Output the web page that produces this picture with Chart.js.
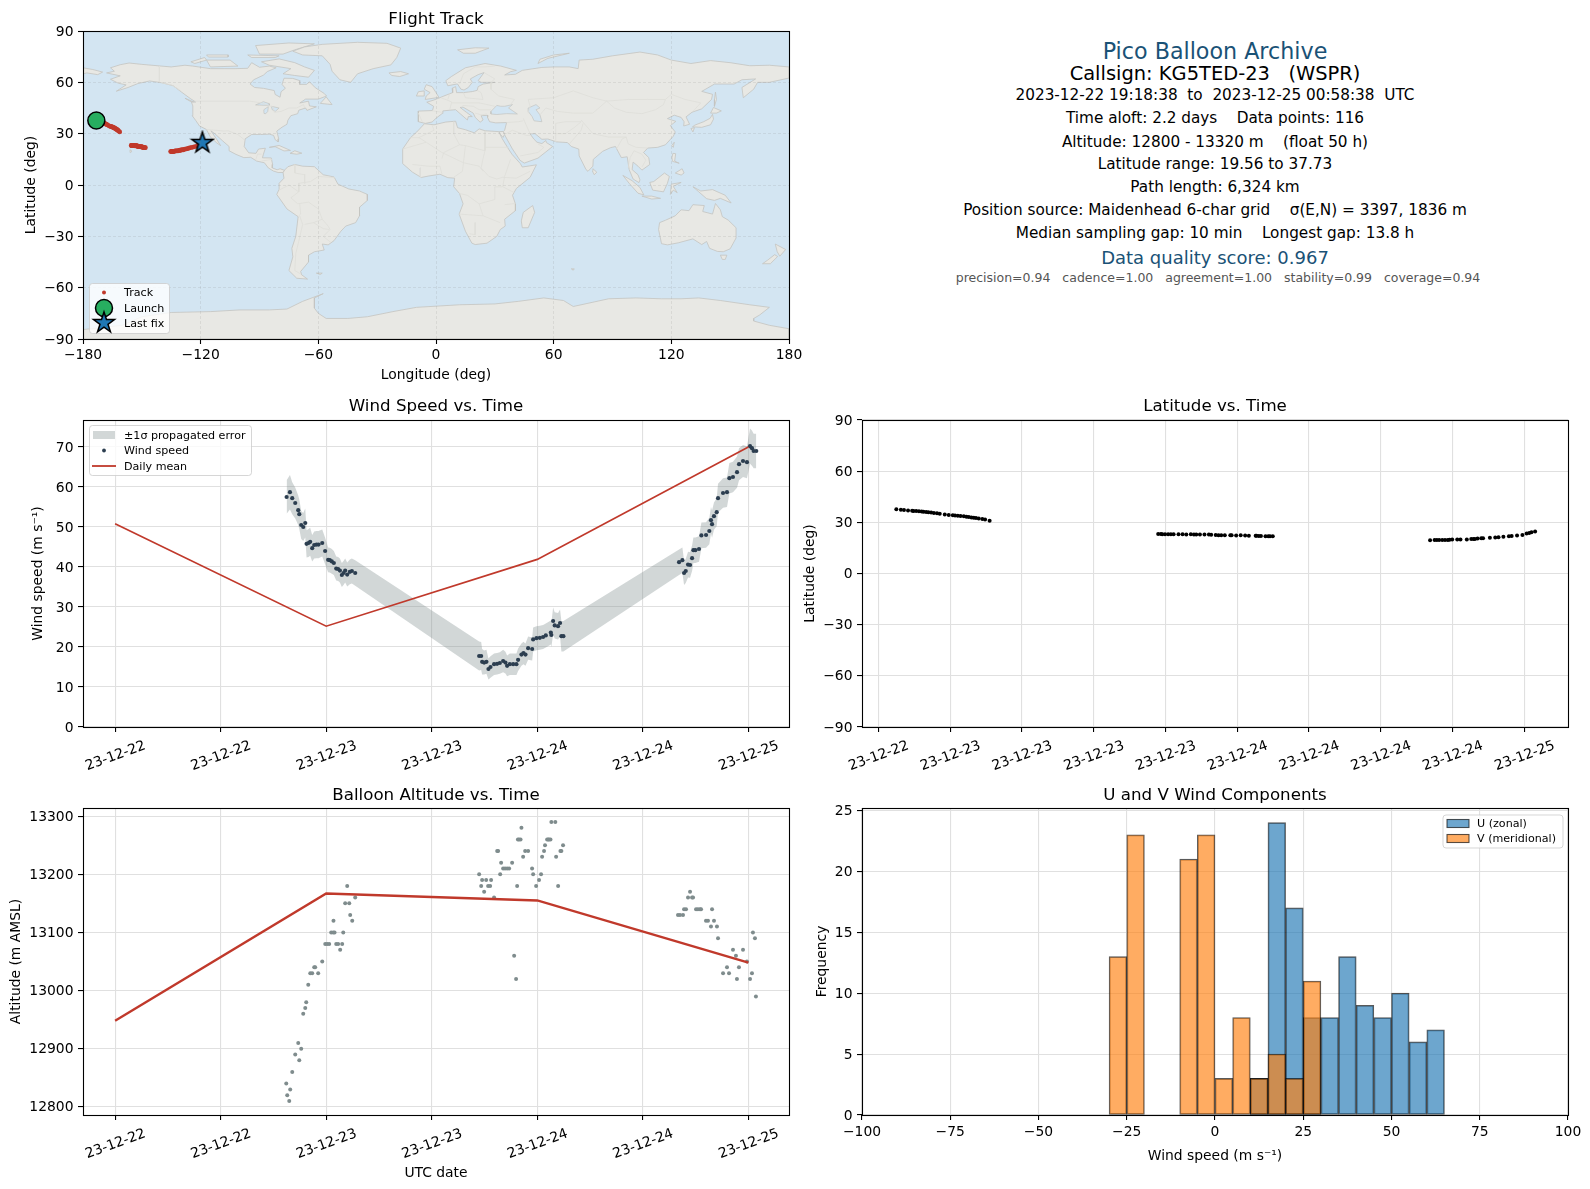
<!DOCTYPE html>
<html>
<head>
<meta charset="utf-8">
<title>Pico Balloon Archive</title>
<script src="https://cdn.jsdelivr.net/npm/chart.js@4/dist/chart.umd.min.js"></script>
<style>
  html, body { margin: 0; background: #fff; }
  #page { position: relative; width: 1590px; height: 1189px; overflow: hidden; font-family: "DejaVu Sans", sans-serif; }
  canvas { position: absolute; }
  .info { position: absolute; transform: translate(-50%, -50%); white-space: pre; line-height: 1; color: #000; }
</style>
</head>
<body>
<div id="page"></div>
<script>
// Measurements, hours since 2023-12-22 00:00 UTC
const flightHours = [
  19.50,19.88,20.14,20.48,20.82,20.94,21.16,21.39,21.62,21.77,21.99,22.18,22.41,22.64,22.90,23.13,23.55,23.88,24.22,24.41,24.64,24.87,25.14,25.36,25.56,25.78,25.97,26.16,26.39,26.69,26.92,27.30,
  41.39,41.62,41.73,41.96,42.22,42.45,42.68,43.09,43.43,43.74,44.12,44.38,44.57,44.88,45.26,45.63,45.82,46.20,46.43,46.66,46.96,47.42,47.53,47.91,48.29,48.66,48.97,49.54,49.60,49.80,49.98,50.36,50.59,50.74,50.97,
  64.12,64.50,64.69,64.88,65.14,65.37,65.60,65.75,65.97,66.39,66.66,67.19,67.56,67.75,67.87,68.09,68.40,68.55,69.12,69.57,69.84,70.25,70.71,70.94,71.39,71.84,72.19,72.41,72.60,72.90];
const windSpeed = [
  57.5,58.7,57.2,56.0,54.2,53.2,50.5,50.0,51.0,45.8,46.0,46.3,44.7,45.5,45.6,45.6,46.0,44.0,41.8,41.7,41.4,41.0,39.6,39.5,39.1,38.0,38.5,39.1,38.1,38.8,39.0,38.5,
  17.75,17.75,16.3,16.1,16.3,14.5,15.0,15.7,15.8,16.0,16.5,16.1,15.3,15.7,15.7,15.7,16.8,18.1,18.5,18.1,19.7,19.5,21.9,22.2,22.3,22.5,22.9,23.6,23.0,26.5,25.4,25.2,26.0,22.7,22.7,
  41.2,41.7,38.5,39.0,40.6,40.5,42.2,44.2,44.2,44.5,47.9,48.0,49.0,51.7,50.7,52.7,53.7,57.2,58.5,58.7,62.2,62.5,63.7,65.7,66.5,66.2,70.2,69.7,69.0,69.0];
const windSigma = [
  4.2,4.3,4.0,3.9,3.7,3.7,3.5,3.5,3.6,3.4,3.5,3.5,3.3,3.4,3.4,3.4,3.4,3.3,3.1,3.1,3.1,3.0,3.0,3.0,3.0,3.0,3.0,3.0,3.0,3.1,3.1,3.2,
  3.6,3.5,3.2,3.0,3.0,2.6,2.7,2.7,2.7,2.7,2.8,2.7,2.6,2.7,2.7,2.7,2.8,2.8,2.8,2.8,2.9,2.9,3.0,3.0,3.0,3.0,3.0,3.0,3.0,3.4,3.3,3.3,3.4,3.8,3.8,
  3.2,3.2,3.0,3.0,3.2,3.2,3.2,3.2,3.2,3.2,3.2,3.2,3.3,3.3,3.4,3.4,3.5,3.6,3.7,3.7,3.8,3.8,3.9,4.0,4.0,4.0,4.4,4.4,4.3,4.3];
const latitude = [
  37.73,37.4,37.2,37.0,36.8,36.7,36.6,36.5,36.3,36.2,36.1,35.9,35.7,35.5,35.3,35.0,34.6,34.3,34.2,34.0,33.9,33.7,33.5,33.3,33.1,32.9,32.7,32.5,32.3,32.0,31.6,31.0,
  23.1,23.1,23.0,23.0,23.0,23.0,23.0,23.0,23.0,22.9,23.0,22.9,22.9,22.9,22.8,22.8,22.7,22.6,22.5,22.5,22.4,22.4,22.4,22.3,22.4,22.3,22.2,22.1,22.1,22.0,22.0,21.9,21.9,21.8,21.8,
  19.56,19.6,19.6,19.6,19.6,19.7,19.7,19.8,19.9,19.9,20.0,20.0,20.2,20.3,20.3,20.5,20.6,20.6,21.0,21.1,21.3,21.5,21.8,22.0,22.3,22.6,23.4,23.8,24.2,24.6];
const longitude = [
  -173.2,-172.6,-172.2,-171.7,-171.2,-171.0,-170.6,-170.2,-169.9,-169.6,-169.2,-168.9,-168.6,-168.2,-167.8,-167.4,-166.7,-166.2,-165.7,-165.4,-165.0,-164.7,-164.3,-164.0,-163.7,-163.4,-163.1,-162.9,-162.6,-162.2,-161.9,-161.3,
  -155.4,-155.2,-155.0,-154.9,-154.7,-154.5,-154.3,-154.0,-153.7,-153.5,-153.2,-153.0,-152.9,-152.7,-152.5,-152.3,-152.1,-151.9,-151.7,-151.5,-151.3,-151.0,-150.9,-150.6,-150.3,-150.1,-149.9,-149.6,-149.5,-149.4,-149.3,-149.0,-148.8,-148.5,-148.2,
  -135.3,-134.9,-134.6,-134.4,-134.1,-133.8,-133.5,-133.2,-132.9,-132.4,-132.0,-131.5,-131.0,-130.6,-130.2,-129.8,-129.3,-128.7,-128.0,-127.3,-126.6,-126.0,-125.2,-124.3,-123.4,-122.3,-121.2,-120.2,-119.7,-119.1];

const altHours = [
  19.46,19.57,19.80,19.91,20.14,20.48,20.82,20.94,21.16,21.39,21.62,21.73,21.96,22.19,22.41,22.64,22.75,23.09,23.55,23.89,24.11,24.34,24.57,24.80,24.83,24.95,25.14,25.36,25.59,25.82,25.94,26.16,26.39,26.62,26.73,26.96,27.30,
  41.39,41.62,41.73,41.96,42.19,42.41,42.64,42.75,43.09,43.44,43.55,43.78,43.89,44.12,44.34,44.57,44.80,45.14,45.37,45.59,45.71,45.80,45.93,46.10,46.20,46.39,46.62,46.96,47.41,47.53,47.87,48.20,48.43,48.55,48.77,48.88,49.12,49.25,49.35,49.50,49.60,50.05,50.14,50.37,50.63,50.74,50.93,
  64.00,64.23,64.57,64.69,64.91,65.14,65.37,65.60,65.71,66.05,66.27,66.50,66.62,67.18,67.41,67.75,67.87,68.09,68.43,68.55,69.12,69.57,69.80,70.25,70.59,70.70,70.93,71.39,71.84,72.19,72.41,72.52,72.75,72.86];
const altitude = [
  12840,12820,12810,12830,12860,12890,12910,12880,12900,12960,12970,12980,13010,13030,13030,13040,13040,13030,13050,13080,13080,13080,13100,13100,13120,13100,13080,13080,13070,13080,13100,13150,13180,13150,13130,13120,13160,
  13200,13180,13190,13170,13190,13180,13180,13190,13160,13240,13240,13200,13220,13210,13210,13210,13210,13220,13060,13020,13180,13260,13260,13260,13280,13230,13240,13240,13210,13200,13180,13190,13200,13230,13240,13250,13260,13260,13260,13260,13290,13290,13230,13180,13240,13240,13250,
  13130,13130,13130,13140,13140,13160,13170,13160,13160,13140,13140,13140,13140,13120,13120,13110,13140,13120,13110,13090,13030,13040,13030,13070,13060,13020,13040,13070,13050,13020,13030,13100,13090,12990];

// Daily means
const dayHours = [0, 24, 48, 72];
const dailyWind = [50.8, 25.2, 41.9, 70.0];
const dailyAlt = [12948, 13167, 13155, 13048];

// Histogram of wind components, bins 5 m/s wide
const binLeftEdges = [-30,-25,-20,-15,-10,-5,0,5,10,15,20,25,30,35,40,45,50,55,60];
const uCounts = [0,0,0,0,0,0,0,0,3,24,17,8,8,13,9,8,10,6,7];
const vCounts = [13,23,0,0,21,23,3,8,3,5,3,11,0,0,0,0,0,0,0];

// Tick values and labels
const lonTicks = [-180,-120,-60,0,60,120,180];
const lonLabels = ['\u2212180','\u2212120','\u221260','0','60','120','180'];
const latTicks = [-90,-60,-30,0,30,60,90];
const latLabels = ['\u221290','\u221260','\u221230','0','30','60','90'];
const wideHourTicks = [0,12,24,36,48,60,72];
const wideHourLabels = ['23-12-22','23-12-22','23-12-23','23-12-23','23-12-24','23-12-24','23-12-25'];
const narrowHourTicks = [18,24,30,36,42,48,54,60,66,72];
const narrowHourLabels = ['23-12-22','23-12-23','23-12-23','23-12-23','23-12-23','23-12-24','23-12-24','23-12-24','23-12-24','23-12-25'];
const windTicks = [0,10,20,30,40,50,60,70];
const altTicks = [12800,12900,13000,13100,13200,13300];
const speedTicks = [-100,-75,-50,-25,0,25,50,75,100];
const speedLabels = ['\u2212100','\u221275','\u221250','\u221225','0','25','50','75','100'];
const freqTicks = [0,5,10,15,20,25];

// Map outlines, lon/lat pairs
const northAmerica = [-168,65.5,-164,66.5,-166,68.5,-161,70.3,-156.5,71.3,-150,70.5,-141,69.6,-135,69,-128,70,-124,69.5,-115,68,-108,68,-102,68,-96,68.2,-94,71.5,-90,68.8,-85,69.5,-81.5,68.5,-86,66.3,-88,64.2,-93,61.5,-94.8,59,-92.5,57,-88,56.5,-82.5,55.2,-82,52.9,-79.5,51.3,-79,54.5,-76.8,56.5,-78.5,58.8,-77.5,62.4,-73,62.3,-69.5,61,-69.5,58.8,-66,58.8,-64.5,60.3,-61.5,56.8,-57,53.5,-55.8,52,-60,50.2,-66.5,50.2,-69.5,47.9,-65,49,-64.5,46.2,-61,45.7,-65.8,43.6,-66.5,45,-70,43.7,-70.5,41.7,-74,40.5,-75.5,37.9,-76,35.5,-78.5,33.8,-81.2,31.5,-80.2,27,-80.5,25.2,-82,26.5,-82.8,29,-85,29.7,-89.5,29.5,-94,29.5,-97.3,27,-97.8,22.5,-95.5,18.8,-91.8,18.5,-90.5,21,-87,21.5,-88,18,-88.5,15.9,-84,15.8,-83.3,12,-83.5,10,-81,8.9,-79.5,9.5,-77.3,8.6,-78,7.3,-80.5,7.3,-83,8.2,-85.5,10,-87.5,13,-91.5,14,-94.5,16.2,-98,16,-102,17.9,-105.5,20,-105.5,22.5,-109,26,-112.8,30,-114.8,31.7,-112,27,-109.8,23,-112,24.8,-115,28,-117.1,32.5,-120.6,34.5,-122.5,37.7,-124.3,40.5,-124,46.2,-124.7,48.4,-122.5,48.5,-125,50.3,-130,54.5,-134,58,-140,59.8,-146,60.8,-152,59.3,-157,57,-163,54.8,-158,58.5,-162,59.5,-166,61.8,-161,63.8];
const greenland = [-73,78.2,-67,80.7,-58,82.2,-40,83.4,-25,82.8,-18,80,-20,74.5,-23,70.2,-32,68,-40,65,-43.5,60,-49,61.5,-53,66.5,-54,70.5,-58,75.5,-68,76];
const baffin = [-80,73.7,-72,71.5,-67,69,-62,67,-65,63,-72,64,-78,65,-74,68,-85,70,-89,72];
const victoriaIsland = [-117,73,-105,73,-101,69.5,-115,69];
const ellesmere = [-90,76.5,-78,76.5,-72,79,-62,82.5,-75,83,-92,81.5];
const banksIsland = [-125,72,-118,74.5,-117,73,-123,71];
const devonIsland = [-96,76,-80,75.5,-82,74.5,-94,74.5];
const melvilleIsland = [-117,76,-106,76,-106,74.8,-116,74.8];
const newfoundland = [-59,47.7,-56,51.5,-53,47];
const vancouverIsland = [-128,50.7,-123.3,48.4,-125,48.7];
const cuba = [-85,22,-80,23.1,-74.2,20.2,-77.5,19.9,-82,22.4];
const hispaniola = [-74.4,18.5,-72,20,-68.4,18.6,-71,18];
const hawaii = [-156,20.6,-155,19.7,-155.7,19,-156,20];
const chukotkaEnd = [-180,68.5,-175,67.5,-170,66,-172.5,64.5,-178,65.5,-180,65];
const southAmerica = [-77.3,8.6,-75.5,10.7,-72,12,-68,11,-62,10.7,-57.5,6,-52,4.7,-50,0.5,-44.5,-2.3,-39,-3.5,-35,-5.5,-35,-9,-39,-13,-39,-18,-41,-22,-46,-24,-48.5,-27,-52,-32.5,-55,-35,-58,-34.5,-57,-38,-62,-39,-65,-41,-65,-45,-69,-50.5,-68.5,-52.5,-65.5,-55,-71,-54.5,-75,-50,-73,-42,-73.5,-37,-71.5,-30,-70.3,-18.5,-76,-14,-81.2,-5.5,-80,-2.5,-80,1,-77.5,4,-78,7.3];
const africa = [-5.9,35.8,-1,35.2,5,36.8,10,37.3,11,33.5,15,32.3,19.5,30.5,22,32.8,25,31.7,32,31.2,32.5,30,33.8,27,37,21,38.7,18,43,12.5,44,10.5,51.2,11.8,48,4.5,41,-2,39,-6,40.5,-11,40.5,-15,35,-20,35.3,-24,32.8,-26,31,-30,26,-34,20,-34.8,18.3,-34,15,-27,11.8,-17,13.8,-11,12,-5,9,-1,9.5,4,6,4.3,2,6.3,-4,5.2,-7.5,4.4,-12,7.5,-17,12.5,-17,21,-13,27.7,-9.8,31];
const sinai = [32.3,31.2,34.3,31.3,34.9,29.5,34.2,27.8,32.6,29.9];
const eurasia = [-9,37,-5.5,36,-2,36.8,0,39,3.2,41.8,3.5,43.3,7,43.7,10,44,12.5,41.5,16,38,16.5,40,18.5,40,15.5,42.5,12.3,45.3,13.8,45.5,19,42,20,39.5,22.5,36.7,24,38,23,40.5,26.5,40.7,26.3,39.5,27.3,37,30.5,36.3,36,36.5,35,32,34.3,31.2,34.9,29.5,39,21,42.8,14.5,45,12.8,52,15.7,59.5,22.5,56.3,24.8,56,26,54,24.2,51.5,25,50,26.7,48,29.8,50.5,30,54,26.7,57,26.9,61.5,25.2,67,24.8,69,22.5,72.8,21,73,17,76.5,9,77.5,8,80,11,80.2,15,85,19.7,89,21.8,91.5,22.5,94.5,16,97.5,16.5,98.5,9,100.5,3.5,103.5,1.4,104,3,103,6,100,9,100.5,13.4,103,11,105,8.7,109,12,108.5,16,105.8,19,108,21.6,113,22,117,23.5,121,28.5,122,31,119.5,34.7,122.3,37.2,118,38.8,121.5,40.8,125,39.5,126.5,37,126.3,34.5,129.3,35.5,127.5,39.8,130.5,42.5,135.5,44.5,140.5,50,141,53,135.5,54.7,142,59,152,59,156,61.5,163,62,156,57,156.7,51,162,56,164,60,170,60,180,62.5,180,69,170,70,160,69.7,150,71.5,140,72.7,130,71,120,73,113,76,104,77.7,90,75.5,80,73.5,73,73,72.5,68,68,69,60,69,54,68.7,44,67,40.5,64.7,35,64.3,38,66.2,41,67,33,69.5,25,71,15,68.5,8,63.5,5,61,6,58,10.5,59,11,59,12.7,56,14.3,55.5,16.5,57,18.5,60,17.5,62,21.5,64.5,24.5,65.7,21.5,61,23,60,30,60,24,59,21.5,57.5,21,55.3,18.5,54.6,14,54,10.5,54,10,57.5,8.2,56.5,8.5,54,4,52,1.5,50.8,-1.5,49.5,-4.7,48.4,-1.2,46,-1.8,43.5,-9,43.2];
const britain = [-5.5,50,1.5,51.2,0,54,-2,57.5,-5,58.6,-6,56,-3,54,-5,52];
const ireland = [-10,52,-6,52,-6,55,-9,54.5];
const iceland = [-24,65.5,-18,66.3,-14,65,-18.5,63.4,-22.5,64];
const svalbard = [11,79,20,80.2,27,80,20,77,14,77];
const novayaZemlya = [52,71,57,74,68,77,60,76,53,73.5];
const sakhalin = [142,46,143,50,142.5,54.3,142,50];
const honshu = [130.8,34,135.5,33.7,140,35.2,141.5,38.5,141,41.3,139.8,39,136.5,37,132,35];
const kyushu = [130,33,131.8,33.5,131,31];
const hokkaido = [140,42,141.5,45.3,145.5,43.3,143,42];
const taiwan = [120.2,23,121.5,25,121,22];
const sriLanka = [80,9.5,82,7.5,80.7,6,79.8,8];
const sumatra = [95.3,5.6,100,2.5,104,-1.5,106,-5.8,103,-4.8,98.5,1];
const java = [105,-6.5,110,-6.5,114.5,-7.8,110,-8.2];
const borneo = [109,1.5,111,2,116.5,7,119,5,118,1,116,-4,110.5,-3];
const sulawesi = [119.5,-5.5,120,0.5,125,1.5,121,-0.8,123,-4.5,121,-3];
const newGuinea = [131,-1,135,-3.5,141,-2.7,147.5,-6,150.5,-10.5,145,-7.8,142,-9,138,-8,134,-4];
const luzon = [120.3,16,120.8,18.5,122.2,18.3,121.7,14,124,12.7,120.6,13.8];
const mindanao = [122,7,125.5,9.5,126.5,7,125,5.8];
const australia = [114,-22,113.5,-26,115,-34.3,118,-35,123.5,-33.8,131,-31.5,135.5,-34.8,138,-33,139.5,-37,143.5,-38.8,146.5,-39,150,-37.3,153,-31,153,-25,149,-20.5,146,-18.5,145,-14.5,142.5,-10.8,141,-17,136,-15.5,136.8,-12,131,-11.5,129,-15,125,-14.5,122,-18,117,-20.6];
const tasmania = [145,-41,148.3,-41,147.5,-43.5,146,-43.5];
const newZealandNorth = [173,-34.5,178.3,-37.7,175.3,-41.6,174,-39];
const newZealandSouth = [172.7,-40.7,174.2,-41.8,170.5,-46,166.5,-46,169,-44];
const madagascar = [49.3,-12,50.3,-16,47,-25,44,-25,43.5,-21,44.5,-16];
const kerguelen = [69,-49,70.5,-49,70,-49.8];
const falklands = [-61,-51.5,-58,-51.5,-59,-52.3];
const antarctica = [-180,-84.5,-160,-82,-150,-77,-135,-74.5,-115,-74,-100,-73,-85,-73,-76,-72.5,-68,-68,-57.5,-63.5,-62,-66,-62,-72,-60,-75,-56,-78,-45,-78,-35,-77,-22,-74,-10,-71.5,12,-70,30,-69.5,42,-68,55,-66,65,-67.5,70,-71,78,-69,88,-66.5,102,-66,115,-66.5,125,-66.5,134,-66,145,-67.5,160,-70,170,-71.5,165,-76,162,-78,162,-79.5,170,-82,180,-84,180,-90,-180,-90];
const landShapes = [northAmerica,greenland,baffin,victoriaIsland,ellesmere,banksIsland,devonIsland,melvilleIsland,newfoundland,vancouverIsland,cuba,hispaniola,hawaii,chukotkaEnd,southAmerica,africa,sinai,eurasia,britain,ireland,iceland,svalbard,novayaZemlya,sakhalin,honshu,kyushu,hokkaido,taiwan,sriLanka,sumatra,java,borneo,sulawesi,newGuinea,luzon,mindanao,australia,tasmania,newZealandNorth,newZealandSouth,madagascar,kerguelen,falklands,antarctica];

const blackSea = [28,43,28,41.5,31,41.2,36,41.7,41.5,41.5,37,45,39,47,35,46,33,46,31,46.5];
const caspianSea = [47,45,51,47,53,45,51,44,53,41,54,37,50,37.5,49,40,47,43];
const lakeSuperior = [-92,46.8,-88,48.7,-85,47.5,-85,46.5,-90,46.7];
const lakeMichigan = [-87.7,41.8,-87.8,44,-85.5,45.8,-85.8,43,-86.8,41.7];
const lakeHuron = [-84,46,-80,45,-82,43,-83.5,44];
const waterShapes = [blackSea, caspianSea, lakeSuperior, lakeMichigan, lakeHuron];

const borderLines = [
  [-123,49,-95,49,-89,48,-83,45.5,-82.5,42.5,-79,43,-75,45,-71,45,-67.5,47,-67,45],
  [-141,69.6,-141,60,-135,58.5,-130,55],
  [-117,32.5,-108,31.5,-106,31.7,-101,29.5,-97.3,26],
  [-92,14.5,-91,18,-89,18],
  [-89,14,-83.5,15],
  [-51.5,4.3,-60,5,-64,2,-70,1,-70,-4,-74,-7.5,-70.5,-11,-65,-10,-60,-14,-58,-20,-55,-24,-54,-26,-57.5,-30,-53.5,-33.7],
  [-69.5,-18,-68,-23,-70,-33,-71.5,-40,-72,-50,-69,-52],
  [-69.5,-11,-69,-17,-70,-18],
  [-72,12,-72,7,-67,6,-67,1],
  [-58,-20,-62.5,-22,-67,-23],
  [-62.5,-22,-57.5,-25.5,-54.5,-26],
  [-80,-3,-75,0,-70,-4],
  [-13,27.7,-8.7,27.7,-1,32,-2,35],
  [9,37,9,30,12,23.5,4,19,3,15.5],
  [25,31.7,25,20,24,15.5,23,10,27,5,31,3.5,34,4.5,41,4,48,8],
  [12,23.5,15,23,25,20],
  [37,22,25,22],
  [-17,21,-5,25,-8.7,27.7],
  [-5,25,3,19,14,13,13.5,8,9,4.5],
  [15,23,14,13,22,11,24,8],
  [12,-5,16,-6,22,-11,30,-8.5,30,-1,34,-1,40,-4.5],
  [11.8,-17,24,-18,32.7,-22],
  [20,-22,20,-29,17,-28.5],
  [22,-11,24,-18],
  [35,-11.5,40.5,-10.8],
  [-12,12,-4,11,2,11,3,6.5],
  [-8,10,-8,4.5],
  [34,-1,35,5,38,15],
  [28,60,28,56,32,52,40,50,38,47],
  [47,42,48,46,47,50,60,51,70,55,80,51,87,49,98,50,108,50,117,50,120,53,127,50,135,48,131,43],
  [87,49,91,45,97,42.5,105,41.7,112,44,116,47,117,50],
  [53,41,56,45,62,43,70,42,80,42,87,49],
  [74,38,80,30,88,28,97,28,98,24,102,22,108,21.6],
  [61,25,61,30,66,30,71,34,74,37],
  [68,24,71,28,74,32,75,36],
  [48,30,46,35,44.5,39],
  [61,30,61,36,66,37,74,37],
  [36,36.5,42,37,44.5,37.5],
  [35,29.5,39,32,46,29,48,29],
  [43,17,52,19,55,22,52,24],
  [-2,43.4,3,42.5],
  [-9,42,-7,37],
  [2.5,51,6,49.5,8,48.5,7,44],
  [7,53.5,6,50],
  [14,54,15,51,24,50,23,54,21,55.3],
  [8,48,13,48,17,48,22,48,30,46],
  [13.5,46.5,19,46,22,44,28,44],
  [20,42,23,41,26,41.5],
  [12,59,14,65,20,69,25,69,30,69.5],
  [24.5,65.7,30,62,28,60],
  [92,21,95,27,97,28],
  [98,10,99,16,101,20,105,18,107,14.5,105,10.5]
];

// Summary text on the upper right
const infoLines = [
  ['Pico Balloon Archive', 1215, 51, 22.22, '#1a5276'],
  ['Callsign: KG5TED-23   (WSPR)', 1215, 73.5, 19.44, '#000'],
  ['2023-12-22 19:18:38  to  2023-12-25 00:58:38  UTC', 1215, 96, 15.28, '#000'],
  ['Time aloft: 2.2 days    Data points: 116', 1215, 119, 15.28, '#000'],
  ['Altitude: 12800 - 13320 m    (float 50 h)', 1215, 142.5, 15.28, '#000'],
  ['Latitude range: 19.56 to 37.73', 1215, 165, 15.28, '#000'],
  ['Path length: 6,324 km', 1215, 188, 15.28, '#000'],
  ['Position source: Maidenhead 6-char grid    \u03c3(E,N) = 3397, 1836 m', 1215, 211, 15.28, '#000'],
  ['Median sampling gap: 10 min    Longest gap: 13.8 h', 1215, 233.5, 15.28, '#000'],
  ['Data quality score: 0.967', 1215, 258, 18, '#1a5276'],
  ['precision=0.94   cadence=1.00   agreement=1.00   stability=0.99   coverage=0.94', 1218, 277.5, 12.5, '#555']
];

Chart.defaults.font.family = '"DejaVu Sans", sans-serif';
Chart.defaults.font.size = 13.89;
Chart.defaults.color = '#000';
Chart.defaults.animation = false;

const page = document.getElementById('page');
infoLines.forEach(([text, x, y, size, color]) => {
  const div = document.createElement('div');
  div.className = 'info';
  div.textContent = text;
  div.style.left = x + 'px';
  div.style.top = y + 'px';
  div.style.fontSize = size + 'px';
  div.style.color = color;
  page.appendChild(div);
});

const toXY = (xs, ys) => xs.map((x, i) => ({ x: x, y: ys[i] }));
const pairs = flat => {
  const out = [];
  for (let i = 0; i < flat.length; i += 2) out.push({ x: flat[i], y: flat[i + 1] });
  return out;
};

// Five point star, Chart.js has only the line version
function starPath(ctx, cx, cy, r) {
  ctx.beginPath();
  for (let i = 0; i < 10; i++) {
    const rad = i % 2 ? r * 0.382 : r;
    const a = -Math.PI / 2 + i * Math.PI / 5;
    ctx[i ? 'lineTo' : 'moveTo'](cx + rad * Math.cos(a), cy + rad * Math.sin(a));
  }
  ctx.closePath();
}
function starIcon(r) {
  const c = document.createElement('canvas');
  c.width = c.height = r * 2 + 4;
  const ctx = c.getContext('2d');
  starPath(ctx, r + 2, r + 2, r);
  ctx.fillStyle = '#1f77b4';
  ctx.fill();
  ctx.lineWidth = 1.5;
  ctx.strokeStyle = '#000';
  ctx.stroke();
  return c;
}

// Axes frame, ocean and matplotlib style legend (legend coords are relative to the axes corner)
const axesDecor = {
  id: 'axesDecor',
  beforeDraw(chart, args, opts) {
    if (!opts.background) return;
    const a = chart.chartArea, ctx = chart.ctx;
    ctx.fillStyle = opts.background;
    ctx.fillRect(a.left, a.top, a.width, a.height);
  },
  afterDraw(chart, args, opts) {
    const a = chart.chartArea, ctx = chart.ctx;
    ctx.save();
    ctx.strokeStyle = '#000';
    ctx.lineWidth = 1.1;
    ctx.strokeRect(a.left + 0.5, a.top + 0.5, a.width, a.height);
    const box = opts.legend;
    if (box) {
      ctx.beginPath();
      ctx.roundRect(a.left + box.x, a.top + box.y, box.w, box.h, 3);
      ctx.fillStyle = 'rgba(255,255,255,0.8)';
      ctx.fill();
      ctx.strokeStyle = 'rgba(204,204,204,0.8)';
      ctx.lineWidth = 1;
      ctx.stroke();
      ctx.font = '11.11px "DejaVu Sans"';
      ctx.textBaseline = 'middle';
      box.items.forEach(it => {
        const cx = a.left + box.markX, y = a.top + it.y;
        if (it.kind === 'patch') {
          ctx.fillStyle = it.fill;
          ctx.fillRect(cx - 11, y - 4, 22, 8);
          if (it.edge) { ctx.strokeStyle = it.edge; ctx.lineWidth = 1.1; ctx.strokeRect(cx - 11, y - 4, 22, 8); }
        } else if (it.kind === 'line') {
          ctx.strokeStyle = it.color;
          ctx.lineWidth = 1.8;
          ctx.beginPath(); ctx.moveTo(cx - 12, y); ctx.lineTo(cx + 12, y); ctx.stroke();
        } else if (it.kind === 'dot') {
          ctx.fillStyle = it.color;
          ctx.beginPath(); ctx.arc(cx, y, it.r, 0, Math.PI * 2); ctx.fill();
          if (it.edge) { ctx.strokeStyle = '#000'; ctx.lineWidth = 1.5; ctx.stroke(); }
        } else if (it.kind === 'star') {
          starPath(ctx, cx, y, it.r);
          ctx.fillStyle = it.color; ctx.fill();
          ctx.strokeStyle = '#000'; ctx.lineWidth = 1.5; ctx.stroke();
        }
        ctx.fillStyle = '#000';
        ctx.fillText(it.label, a.left + box.textX, y + 0.7);
      });
    }
    ctx.restore();
  }
};
Chart.register(axesDecor);

function axis(cfg) {
  const horizontal = cfg.side === 'x';
  return {
    type: 'linear',
    min: cfg.min,
    max: cfg.max,
    offset: false,
    border: { display: false, dash: cfg.dash || [] },
    grid: { color: cfg.gridColor || '#e0e0e0', lineWidth: cfg.gridWidth || 1.1, offset: false, tickColor: '#000', tickLength: 5, tickWidth: 1.1, z: cfg.gridZ || 0 },
    afterBuildTicks: s => { s.ticks = cfg.ticks.map(v => ({ value: v })); },
    afterFit: s => {
      if (horizontal) { s.height = cfg.size; s.paddingLeft = 0; s.paddingRight = 0; }
      else { s.width = cfg.size; s.paddingTop = 0; s.paddingBottom = 0; }
    },
    ticks: {
      autoSkip: false,
      padding: cfg.tickPad || (cfg.rotate ? 5.5 : 4.5),
      minRotation: cfg.rotate || 0,
      maxRotation: cfg.rotate || 0,
      labelOffset: cfg.rotate ? 30 : (horizontal ? 0 : 1),
      callback: (v, i) => cfg.labels ? cfg.labels[i] : String(v)
    },
    title: { display: !!cfg.title, text: cfg.title, color: '#000', padding: 0, font: { size: 13.89 } }
  };
}

function panel(left, top, ySize, xSize, config, title, decor, axesHeight = 307, titleTop = 2) {
  const canvas = document.createElement('canvas');
  const w = ySize + 706 + 30, h = 23 + axesHeight + xSize;
  canvas.width = w; canvas.height = h;
  canvas.style.left = (left - ySize) + 'px';
  canvas.style.top = (top - 23) + 'px';
  canvas.style.width = w + 'px';
  canvas.style.height = h + 'px';
  page.appendChild(canvas);
  config.options.responsive = false;
  config.options.devicePixelRatio = 1;
  config.options.layout = { padding: { right: 30 } };
  config.options.plugins = {
    legend: { display: false },
    tooltip: { enabled: false },
    title: { display: true, text: title, color: '#000', fullSize: false, font: { size: 16.67, weight: 'normal' }, padding: { top: titleTop, bottom: 3 - titleTop } },
    axesDecor: decor || {}
  };
  return new Chart(canvas, config);
}

const last = flightHours.length - 1;
const wideRange = { min: -3.65, max: 76.62 };
const mapGrid = { gridColor: 'rgba(120,120,120,0.18)', gridWidth: 0.8, dash: [3, 2], gridZ: 1 };

// Flight track map
const mapDatasets = [
  { data: [{ x: longitude[last], y: latitude[last] }], pointStyle: starIcon(11), pointRadius: 11, order: 0 },
  { data: [{ x: longitude[0], y: latitude[0] }], pointRadius: 8.5, pointBackgroundColor: '#27ae60', pointBorderColor: '#000', pointBorderWidth: 1.5, order: 1 },
  { data: toXY(longitude, latitude), pointRadius: 2.4, pointBackgroundColor: '#c0392b', pointBorderWidth: 0, order: 2 }
];
borderLines.forEach(line => mapDatasets.push({ data: pairs(line), showLine: true, pointRadius: 0, borderColor: '#deded9', borderWidth: 0.8, order: 3 }));
waterShapes.forEach(shape => {
  const pts = pairs(shape); pts.push(pts[0]);
  mapDatasets.push({ data: pts, showLine: true, fill: 'shape', backgroundColor: '#d3e5f2', borderColor: '#c4c4c0', borderWidth: 0.7, pointRadius: 0, order: 4 });
});
landShapes.forEach(shape => {
  const pts = pairs(shape); pts.push(pts[0]);
  mapDatasets.push({ data: pts, showLine: true, fill: 'shape', backgroundColor: '#e8e8e4', borderColor: '#c4c4c0', borderWidth: 0.8, pointRadius: 0, order: 5 });
});
panel(83, 31, 60, 45, {
  type: 'scatter',
  data: { datasets: mapDatasets },
  options: { scales: {
    x: axis({ side: 'x', min: -180, max: 180, ticks: lonTicks, labels: lonLabels, size: 45, title: 'Longitude (deg)', tickPad: 3.5, ...mapGrid }),
    y: axis({ side: 'y', min: -90, max: 90, ticks: latTicks, labels: latLabels, size: 60, title: 'Latitude (deg)', ...mapGrid })
  } }
}, 'Flight Track', {
  background: '#d3e5f2',
  legend: { x: 6.5, y: 252.5, w: 80, h: 50, markX: 21, textX: 41, items: [
    { kind: 'dot', color: '#c0392b', r: 2, label: 'Track', y: 261.5 },
    { kind: 'dot', color: '#27ae60', r: 8.5, edge: true, label: 'Launch', y: 277 },
    { kind: 'star', color: '#1f77b4', r: 11, label: 'Last fix', y: 292 }
  ] }
}, 308);

// Wind speed
const bandColour = 'rgba(127,140,141,0.35)';
panel(83, 420, 53, 50, {
  type: 'scatter',
  data: { datasets: [
    { data: toXY(flightHours, windSpeed), pointRadius: 2.1, pointBackgroundColor: '#2c3e50', pointBorderWidth: 0, order: 1 },
    { data: toXY(dayHours, dailyWind), showLine: true, pointRadius: 0, borderColor: '#c0392b', borderWidth: 1.7, order: 0 },
    { data: toXY(flightHours, windSpeed.map((v, i) => v + windSigma[i])), showLine: true, pointRadius: 0, borderWidth: 0, fill: '+1', backgroundColor: bandColour, order: 2 },
    { data: toXY(flightHours, windSpeed.map((v, i) => v - windSigma[i])), showLine: true, pointRadius: 0, borderWidth: 0, order: 3 }
  ] },
  options: { scales: {
    x: axis({ side: 'x', ...wideRange, ticks: wideHourTicks, labels: wideHourLabels, size: 50, rotate: 20 }),
    y: axis({ side: 'y', min: 0, max: 76.75, ticks: windTicks, size: 53, title: 'Wind speed (m s\u207b\u00b9)' })
  } }
}, 'Wind Speed vs. Time', {
  legend: { x: 6.5, y: 5.5, w: 162, h: 50, markX: 21, textX: 41, items: [
    { kind: 'patch', fill: bandColour, label: '\u00b11\u03c3 propagated error', y: 15 },
    { kind: 'dot', color: '#2c3e50', r: 1.9, label: 'Wind speed', y: 30.5 },
    { kind: 'line', color: '#c0392b', label: 'Daily mean', y: 46 }
  ] }
}, 307, 0);

// Latitude
panel(862, 420, 60, 50, {
  type: 'scatter',
  data: { datasets: [{ data: toXY(flightHours, latitude), pointRadius: 2, pointBackgroundColor: '#000', pointBorderWidth: 0 }] },
  options: { scales: {
    x: axis({ side: 'x', min: 16.63, max: 75.65, ticks: narrowHourTicks, labels: narrowHourLabels, size: 50, rotate: 20 }),
    y: axis({ side: 'y', min: -90, max: 90, ticks: latTicks, labels: latLabels, size: 60, title: 'Latitude (deg)' })
  } }
}, 'Latitude vs. Time', null, 307, 0);

// Altitude
panel(83, 808, 75, 67, {
  type: 'scatter',
  data: { datasets: [
    { data: toXY(dayHours, dailyAlt), showLine: true, pointRadius: 0, borderColor: '#c0392b', borderWidth: 2.4 },
    { data: toXY(altHours, altitude), pointRadius: 2, pointBackgroundColor: '#7f8c8d', pointBorderWidth: 0 }
  ] },
  options: { scales: {
    x: axis({ side: 'x', ...wideRange, ticks: wideHourTicks, labels: wideHourLabels, size: 67, rotate: 20, title: 'UTC date' }),
    y: axis({ side: 'y', min: 12786, max: 13314, ticks: altTicks, size: 75, title: 'Altitude (m AMSL)' })
  } }
}, 'Balloon Altitude vs. Time', null, 307, 1);

// Wind component histogram
const binCentre = binLeftEdges.map(e => e + 2.5);
const barStyle = { barPercentage: 1, categoryPercentage: 1, grouped: false, borderWidth: 1.1, borderColor: 'rgba(0,0,0,0.65)', borderSkipped: false };
panel(862, 808, 48, 50, {
  type: 'bar',
  data: { datasets: [
    { label: 'V (meridional)', data: toXY(binCentre, vCounts), backgroundColor: 'rgba(255,127,14,0.65)', order: 0, ...barStyle },
    { label: 'U (zonal)', data: toXY(binCentre, uCounts), backgroundColor: 'rgba(31,119,180,0.65)', order: 1, ...barStyle }
  ] },
  options: { scales: {
    x: axis({ side: 'x', min: -100, max: 100, ticks: speedTicks, labels: speedLabels, size: 50, title: 'Wind speed (m s\u207b\u00b9)' }),
    y: axis({ side: 'y', min: 0, max: 25.2, ticks: freqTicks, size: 48, title: 'Frequency' })
  } }
}, 'U and V Wind Components', {
  legend: { x: 581, y: 7, w: 120, h: 33, markX: 596, textX: 615, items: [
    { kind: 'patch', fill: 'rgba(31,119,180,0.65)', edge: 'rgba(0,0,0,0.65)', label: 'U (zonal)', y: 15.5 },
    { kind: 'patch', fill: 'rgba(255,127,14,0.65)', edge: 'rgba(0,0,0,0.65)', label: 'V (meridional)', y: 30.5 }
  ] }
}, 307, 1);
</script>
</body>
</html>
